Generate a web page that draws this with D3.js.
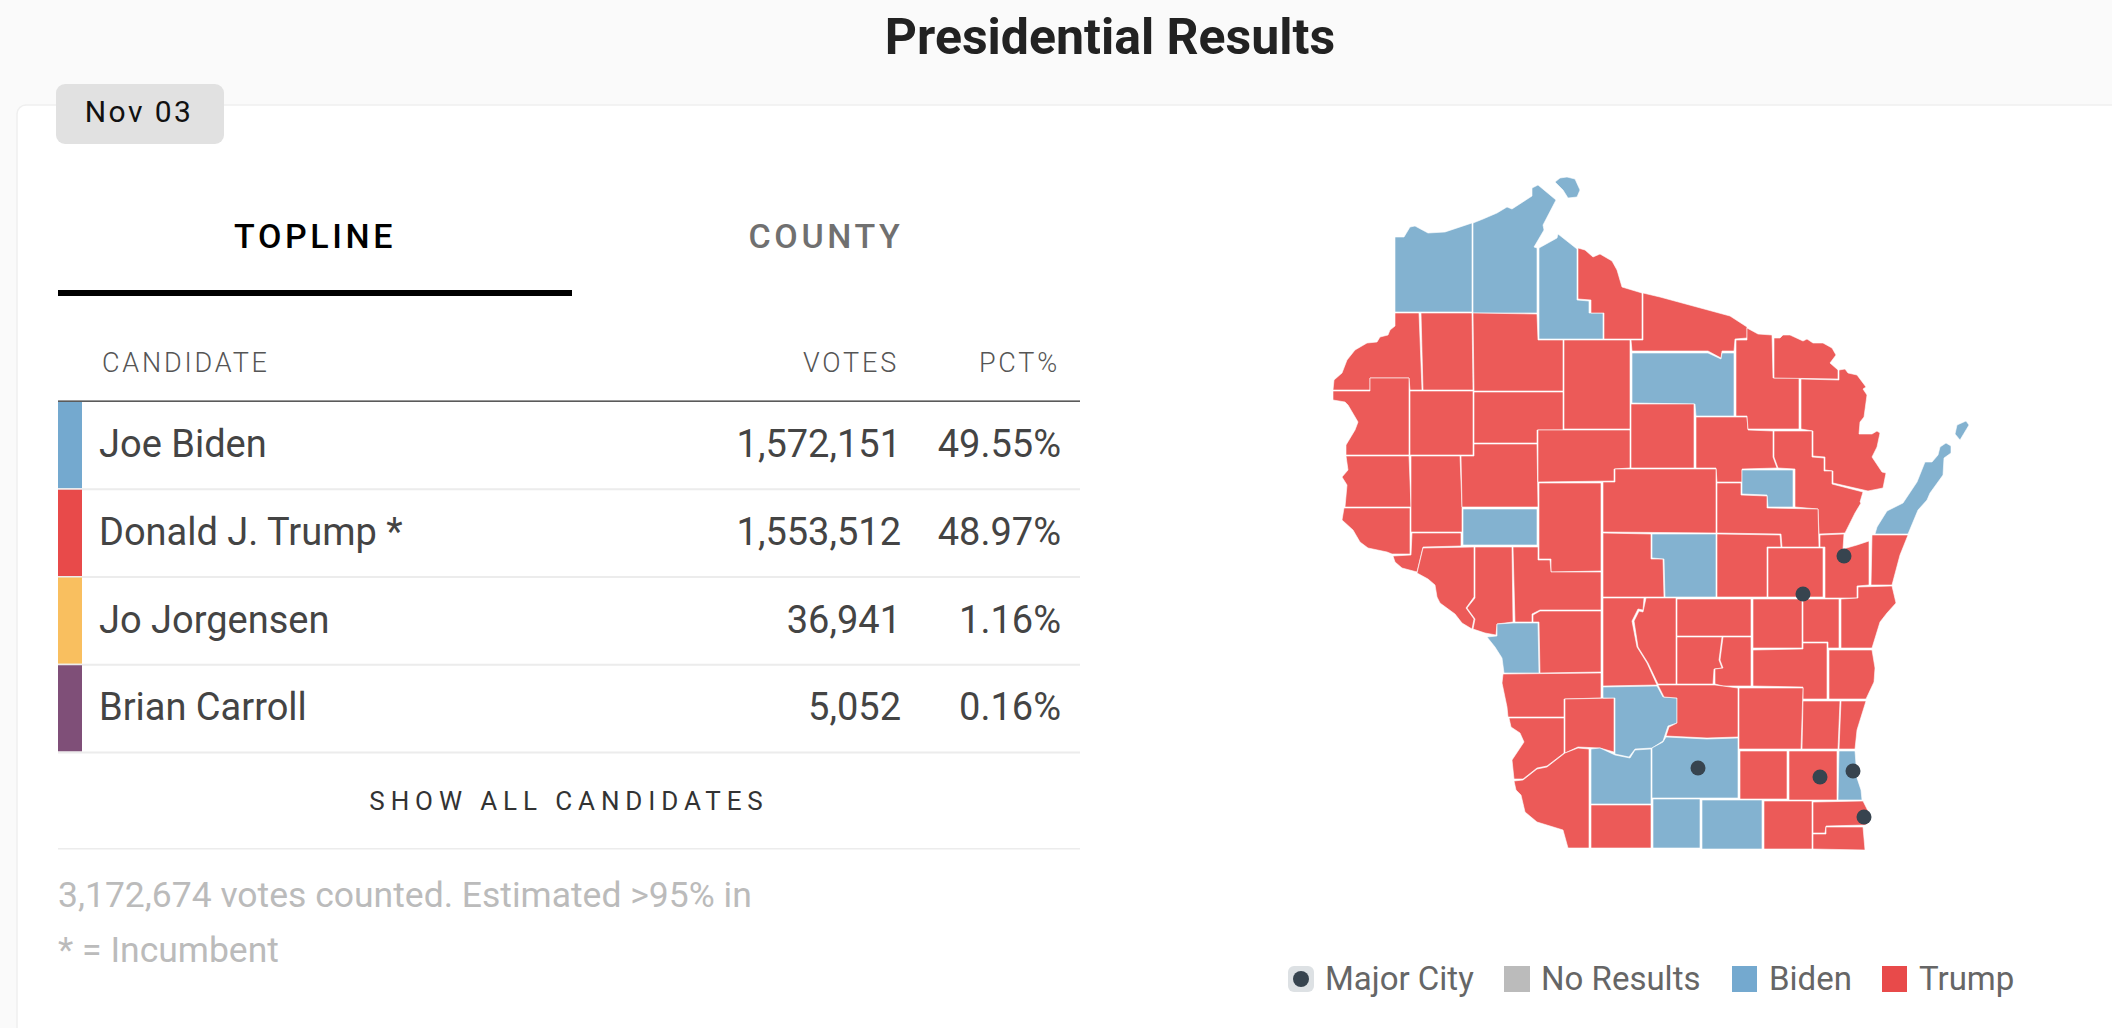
<!DOCTYPE html>
<html>
<head>
<meta charset="utf-8">
<script src="https://cdn.jsdelivr.net/npm/d3@7"></script>
<style>
  html, body { margin: 0; padding: 0; background: #fafafa; overflow: hidden; }
  text { font-family: Roboto, sans-serif; }
</style>
</head>
<body>
<script>
const title = "Presidential Results";
const dateLabel = "Nov 03";
const tabs = ["TOPLINE", "COUNTY"];
const columns = ["CANDIDATE", "VOTES", "PCT%"];

const candidates = ["Joe Biden", "Donald J. Trump *", "Jo Jorgensen", "Brian Carroll"];
const votes = [1572151, 1553512, 36941, 5052];
const pcts = [49.55, 48.97, 1.16, 0.16];
const candidateColors = ["#74a9cf", "#e84a4a", "#f9bf5f", "#7f4f78"];

const footnotes = ["3,172,674 votes counted. Estimated >95% in", "* = Incumbent"];
const legendLabels = ["Major City", "No Results", "Biden", "Trump"];
const legendColors = ["#dde1e4", "#bbbbbb", "#74a9cf", "#e84a4a"];

// counties won by Biden, everything else on the map is Trump
const bidenCounties = ["Douglas", "Bayfield", "Madeline", "Ashland", "Oneida", "Menominee", "Eau Claire",
  "La Crosse", "Sauk", "Portage", "Door", "Washington Is", "Dane", "Iowa", "Green", "Rock", "Milwaukee"];

// outlines, in its own map grid
const countyShapes = [
  ["Douglas", [[1395,237],[1404,237],[1410,227],[1415,226],[1428,233],[1445,232],[1472,223],[1472,312],[1395,312]]],
  ["Bayfield", [[1473,223],[1483,219],[1497,213],[1507,207],[1512,209],[1532,196],[1532,188],[1538,185],[1556,200],[1543,225],[1544,230],[1534,247],[1537,248],[1537,313],[1473,313]]],
  ["Madeline", [[1555,182],[1560,178],[1567,177],[1575,179],[1580,190],[1577,197],[1568,198],[1563,190]]],
  ["Ashland", [[1539,248],[1557,238],[1558,234],[1577,249],[1577,300],[1589,301],[1589,313],[1603,313],[1603,339],[1539,339]]],
  ["Iron", [[1578,248],[1585,250],[1593,257],[1600,254],[1612,261],[1617,270],[1622,287],[1642,293],[1642,339],[1604,339],[1604,313],[1591,313],[1591,300],[1578,299]]],
  ["Vilas", [[1643,293],[1660,297],[1730,316],[1747,327],[1747,338],[1735,339],[1734,351],[1722,351],[1721,358],[1708,351],[1632,351],[1631,340],[1643,340]]],
  ["Oneida", [[1632,353],[1708,353],[1721,359],[1722,353],[1734,353],[1734,416],[1696,416],[1695,404],[1632,403]]],
  ["Burnett", [[1395,313],[1419,313],[1422,390],[1410,390],[1409,378],[1370,378],[1370,390],[1333,390],[1334,380],[1342,373],[1347,360],[1355,350],[1367,343],[1377,342],[1380,337],[1388,335],[1390,330],[1395,326]]],
  ["Washburn", [[1421,313],[1472,313],[1473,390],[1423,390]]],
  ["Sawyer", [[1473,313],[1537,314],[1538,340],[1563,340],[1563,391],[1474,391]]],
  ["Price", [[1564,340],[1630,340],[1630,429],[1564,429]]],
  ["Polk", [[1333,391],[1370,391],[1370,378],[1409,378],[1409,455],[1346,455],[1346,445],[1355,430],[1358,422],[1348,405],[1345,402],[1333,400]]],
  ["Barron", [[1410,391],[1473,391],[1473,455],[1410,455]]],
  ["Rusk", [[1474,392],[1563,392],[1563,430],[1537,430],[1537,443],[1474,443]]],
  ["St. Croix", [[1346,456],[1409,456],[1411,507],[1345,507],[1347,485],[1342,477],[1348,470]]],
  ["Dunn", [[1411,456],[1460,456],[1462,507],[1462,532],[1411,532]]],
  ["Chippewa", [[1461,456],[1474,456],[1474,444],[1537,444],[1538,507],[1462,507]]],
  ["Taylor", [[1538,430],[1630,430],[1630,468],[1614,469],[1614,481],[1538,482]]],
  ["Lincoln", [[1631,404],[1694,404],[1694,468],[1631,468]]],
  ["Langlade", [[1696,417],[1747,417],[1748,430],[1773,431],[1773,457],[1777,468],[1742,469],[1742,482],[1717,482],[1716,468],[1696,468]]],
  ["Forest", [[1736,340],[1747,340],[1747,328],[1758,334],[1772,335],[1773,378],[1799,378],[1799,429],[1748,429],[1747,416],[1736,416]]],
  ["Florence", [[1774,338],[1780,338],[1783,335],[1790,335],[1803,341],[1807,339],[1813,343],[1823,343],[1832,348],[1836,355],[1830,363],[1838,370],[1838,379],[1774,378]]],
  ["Marinette", [[1801,379],[1839,380],[1839,370],[1845,369],[1848,373],[1857,375],[1866,387],[1863,389],[1867,395],[1864,417],[1860,422],[1859,434],[1872,434],[1877,431],[1880,433],[1877,447],[1872,457],[1882,472],[1886,473],[1883,488],[1868,491],[1833,483],[1833,471],[1825,470],[1825,457],[1813,456],[1813,431],[1801,429]]],
  ["Oconto", [[1774,431],[1812,431],[1812,457],[1824,458],[1824,471],[1832,471],[1832,484],[1863,492],[1860,502],[1861,503],[1855,513],[1845,533],[1819,534],[1818,509],[1795,507],[1795,469],[1778,468],[1774,457]]],
  ["Menominee", [[1742,470],[1793,470],[1793,507],[1768,507],[1767,495],[1742,494]]],
  ["Shawano", [[1717,483],[1741,483],[1741,495],[1767,496],[1767,508],[1818,509],[1819,547],[1782,547],[1781,534],[1717,533]]],
  ["Marathon", [[1603,482],[1615,482],[1615,469],[1716,469],[1716,533],[1603,532]]],
  ["Clark", [[1539,483],[1601,483],[1601,571],[1551,572],[1551,559],[1539,559]]],
  ["Eau Claire", [[1463,509],[1537,509],[1537,545],[1463,545]]],
  ["Pierce", [[1344,508],[1410,508],[1410,554],[1392,554],[1387,552],[1368,548],[1360,542],[1353,530],[1342,520]]],
  ["Pepin", [[1412,533],[1461,533],[1461,546],[1423,547],[1417,572],[1402,568],[1395,562],[1393,556],[1411,555]]],
  ["Buffalo", [[1423,548],[1474,547],[1474,597],[1466,608],[1474,619],[1472,629],[1462,623],[1455,614],[1440,603],[1437,597],[1435,585],[1428,579],[1417,573]]],
  ["Trempealeau", [[1475,547],[1512,547],[1513,622],[1497,624],[1496,635],[1485,633],[1473,629],[1475,619],[1467,608],[1475,598]]],
  ["Jackson", [[1513,547],[1538,547],[1538,560],[1550,560],[1551,572],[1601,572],[1601,610],[1540,610],[1532,614],[1532,622],[1515,622]]],
  ["La Crosse", [[1497,624],[1513,623],[1538,623],[1539,673],[1504,673],[1502,658],[1495,647],[1487,637],[1497,636]]],
  ["Monroe", [[1533,615],[1540,611],[1601,611],[1601,672],[1540,673],[1539,622],[1533,622]]],
  ["Vernon", [[1503,674],[1601,673],[1601,698],[1564,699],[1564,717],[1508,717],[1507,707],[1502,683]]],
  ["Crawford", [[1509,718],[1564,718],[1564,753],[1547,766],[1537,768],[1523,779],[1514,779],[1512,760],[1524,742],[1520,733],[1511,727]]],
  ["Richland", [[1565,699],[1614,698],[1614,752],[1600,748],[1578,747],[1565,753]]],
  ["Sauk", [[1603,687],[1657,686],[1663,697],[1677,698],[1677,723],[1668,726],[1663,741],[1652,748],[1635,749],[1629,757],[1615,754],[1615,698],[1603,698]]],
  ["Juneau", [[1603,598],[1644,598],[1643,610],[1638,609],[1632,621],[1637,647],[1647,663],[1657,685],[1603,686]]],
  ["Adams", [[1646,598],[1676,598],[1676,684],[1658,684],[1648,663],[1638,647],[1634,621],[1639,611],[1643,612]]],
  ["Wood", [[1603,533],[1651,534],[1651,559],[1663,559],[1664,597],[1603,597]]],
  ["Portage", [[1652,534],[1716,534],[1716,597],[1665,597],[1664,559],[1652,558]]],
  ["Waupaca", [[1717,534],[1780,535],[1781,547],[1767,547],[1767,597],[1717,597]]],
  ["Outagamie", [[1768,548],[1823,548],[1823,597],[1768,597]]],
  ["Brown", [[1820,535],[1844,534],[1843,549],[1857,545],[1869,541],[1869,585],[1857,586],[1857,598],[1825,598],[1825,547],[1820,547]]],
  ["Kewaunee", [[1872,535],[1908,535],[1900,555],[1892,585],[1871,585]]],
  ["Door", [[1875,534],[1877,527],[1887,511],[1903,503],[1917,482],[1925,462],[1932,462],[1938,455],[1940,447],[1946,443],[1951,446],[1951,453],[1944,458],[1943,475],[1930,493],[1927,500],[1918,510],[1908,534]]],
  ["Washington Is", [[1957,425],[1966,421],[1969,425],[1960,440],[1955,434]]],
  ["Manitowoc", [[1858,587],[1892,586],[1896,603],[1887,613],[1880,622],[1872,648],[1841,648],[1841,599],[1858,598]]],
  ["Calumet", [[1803,599],[1839,599],[1839,648],[1828,648],[1828,642],[1803,642]]],
  ["Winnebago", [[1753,599],[1802,599],[1802,648],[1753,648]]],
  ["Waushara", [[1677,599],[1751,599],[1751,636],[1677,636]]],
  ["Marquette", [[1677,637],[1722,637],[1719,660],[1722,668],[1714,669],[1713,684],[1677,684]]],
  ["Green Lake", [[1723,637],[1751,637],[1751,686],[1723,686],[1715,684],[1715,669],[1723,668],[1720,660]]],
  ["Fond du Lac", [[1753,650],[1803,649],[1803,643],[1827,643],[1827,699],[1803,699],[1803,687],[1753,686]]],
  ["Sheboygan", [[1829,650],[1872,650],[1875,668],[1874,682],[1866,699],[1829,699]]],
  ["Ozaukee", [[1841,701],[1866,701],[1857,730],[1855,749],[1839,749]]],
  ["Washington", [[1803,701],[1840,701],[1838,749],[1802,749]]],
  ["Dodge", [[1739,688],[1803,688],[1801,749],[1739,749]]],
  ["Columbia", [[1658,685],[1715,685],[1738,688],[1738,737],[1707,738],[1666,736],[1669,727],[1677,723],[1677,698],[1664,697]]],
  ["Dane", [[1666,737],[1707,739],[1738,738],[1738,798],[1700,798],[1652,798],[1652,748],[1663,742]]],
  ["Iowa", [[1591,749],[1600,748],[1615,755],[1630,758],[1635,750],[1651,749],[1651,804],[1591,804]]],
  ["Grant", [[1514,781],[1523,780],[1537,769],[1547,767],[1565,753],[1578,748],[1589,749],[1589,848],[1568,848],[1563,830],[1537,822],[1525,812],[1521,795],[1516,790]]],
  ["Lafayette", [[1591,805],[1651,805],[1651,848],[1591,848]]],
  ["Green", [[1653,799],[1700,799],[1700,848],[1653,848]]],
  ["Rock", [[1702,800],[1762,800],[1762,849],[1702,849]]],
  ["Jefferson", [[1740,751],[1787,751],[1787,799],[1740,799]]],
  ["Waukesha", [[1789,751],[1837,751],[1837,800],[1789,800]]],
  ["Milwaukee", [[1839,751],[1855,751],[1857,778],[1861,790],[1862,800],[1838,800]]],
  ["Walworth", [[1764,801],[1812,801],[1812,849],[1764,849]]],
  ["Racine", [[1813,802],[1863,801],[1869,813],[1866,825],[1826,826],[1825,833],[1813,833]]],
  ["Kenosha", [[1826,827],[1863,827],[1865,850],[1813,849],[1813,834],[1826,834]]],
];
const cityPoints = [[1844,556],[1803,594],[1698,768],[1820,777],[1853,771],[1864,817]];

const width = 2112;
const height = 1028;

const svg = d3.select("body").append("svg")
  .attr("width", width)
  .attr("height", height)
  .style("display", "block");

// page and card
svg.append("rect").attr("width", width).attr("height", height).attr("fill", "#fafafa");
svg.append("rect")
  .attr("x", 17).attr("y", 105)
  .attr("width", width).attr("height", height)
  .attr("rx", 9)
  .attr("fill", "#fff")
  .attr("stroke", "#efefef")
  .attr("stroke-width", 1.5);

svg.append("text")
  .attr("x", 1110).attr("y", 53.5)
  .attr("text-anchor", "middle")
  .attr("font-size", 50)
  .attr("font-weight", 700)
  .attr("fill", "#222")
  .text(title);

svg.append("rect")
  .attr("x", 56).attr("y", 84)
  .attr("width", 168).attr("height", 60)
  .attr("rx", 9)
  .attr("fill", "#e1e1e1");
svg.append("text")
  .attr("x", 139).attr("y", 122)
  .attr("text-anchor", "middle")
  .attr("font-size", 30)
  .attr("letter-spacing", 2.4)
  .attr("fill", "#111")
  .text(dateLabel);

// tabs
const tabX = d3.scaleBand().domain(tabs).range([58, 1080]);
svg.selectAll(".tab").data(tabs).join("text")
  .attr("class", "tab")
  .attr("x", (d) => tabX(d) + tabX.bandwidth() / 2 + 1.5)
  .attr("y", 248)
  .attr("text-anchor", "middle")
  .attr("font-size", 34)
  .attr("font-weight", 500)
  .attr("letter-spacing", 3.6)
  .attr("fill", (d, i) => (i === 0 ? "#000" : "#707070"))
  .text((d) => d);
svg.append("rect")
  .attr("x", 58).attr("y", 290)
  .attr("width", 514).attr("height", 6)
  .attr("fill", "#000");

// table header
const colX = [102, 899, 1060];
svg.selectAll(".col").data(columns).join("text")
  .attr("class", "col")
  .attr("x", (d, i) => colX[i])
  .attr("y", 372)
  .attr("text-anchor", (d, i) => (i === 0 ? "start" : "end"))
  .attr("font-size", 27)
  .attr("font-weight", 300)
  .attr("letter-spacing", 2.8)
  .attr("fill", "#555")
  .text((d) => d);
svg.append("rect")
  .attr("x", 58).attr("y", 400.5)
  .attr("width", 1022).attr("height", 1.3)
  .attr("fill", "#333");

// table rows
const rowY = d3.scaleBand().domain(candidates).range([402, 753]);
const row = svg.selectAll(".row").data(candidates).join("g")
  .attr("class", "row")
  .attr("transform", (d) => `translate(0,${rowY(d)})`);
row.append("rect")
  .attr("x", 58).attr("y", 0)
  .attr("width", 24).attr("height", rowY.bandwidth() - 1.5)
  .attr("fill", (d, i) => candidateColors[i]);
row.append("rect")
  .attr("x", 58).attr("y", rowY.bandwidth() - 1.5)
  .attr("width", 1022).attr("height", 2)
  .attr("fill", "#ececec");
row.append("text")
  .attr("x", 99).attr("y", 55)
  .attr("font-size", 38)
  .attr("fill", "#444")
  .text((d) => d);
row.append("text")
  .attr("x", 901).attr("y", 55)
  .attr("text-anchor", "end")
  .attr("font-size", 38)
  .attr("fill", "#444")
  .text((d, i) => d3.format(",")(votes[i]));
row.append("text")
  .attr("x", 1061).attr("y", 55)
  .attr("text-anchor", "end")
  .attr("font-size", 38)
  .attr("fill", "#444")
  .text((d, i) => pcts[i].toFixed(2) + "%");

svg.append("text")
  .attr("x", 569).attr("y", 810)
  .attr("text-anchor", "middle")
  .attr("font-size", 26)
  .attr("letter-spacing", 5.9)
  .attr("fill", "#333")
  .text("SHOW ALL CANDIDATES");
svg.append("rect")
  .attr("x", 58).attr("y", 848)
  .attr("width", 1022).attr("height", 1.5)
  .attr("fill", "#ececec");

svg.selectAll(".foot").data(footnotes).join("text")
  .attr("class", "foot")
  .attr("x", 58)
  .attr("y", (d, i) => 907 + i * 55)
  .attr("font-size", 35.5)
  .attr("fill", "#bbb")
  .text((d) => d);

// map
const projection = d3.geoIdentity();
const path = d3.geoPath(projection);
const features = countyShapes.map(([name, ring]) => ({
  type: "Feature",
  properties: { name },
  geometry: { type: "Polygon", coordinates: [[...ring, ring[0]]] },
}));

svg.append("g")
  .selectAll("path")
  .data(features)
  .join("path")
  .attr("d", path)
  .attr("fill", (d) => (bidenCounties.includes(d.properties.name) ? "#83b2d0" : "#ec5a58"))
  .attr("stroke", "#fff")
  .attr("stroke-width", 0.6);

svg.append("g")
  .selectAll("circle")
  .data(cityPoints)
  .join("circle")
  .attr("cx", (d) => projection(d)[0])
  .attr("cy", (d) => projection(d)[1])
  .attr("r", 7.5)
  .attr("fill", "#37444f");

// legend
const legendX = [1288, 1504, 1732, 1882];
const legend = svg.selectAll(".legend").data(legendLabels).join("g")
  .attr("class", "legend")
  .attr("transform", (d, i) => `translate(${legendX[i]},966)`);
legend.append("rect")
  .attr("width", (d, i) => (i < 2 ? 26 : 25))
  .attr("height", 26)
  .attr("rx", (d, i) => (i === 0 ? 6 : 0))
  .attr("fill", (d, i) => legendColors[i]);
legend.filter((d, i) => i === 0).append("circle")
  .attr("cx", 13).attr("cy", 13).attr("r", 8)
  .attr("fill", "#37444f");
legend.append("text")
  .attr("x", 37)
  .attr("y", 24)
  .attr("font-size", 33)
  .attr("fill", "#666")
  .text((d) => d);
</script>
</body>
</html>
